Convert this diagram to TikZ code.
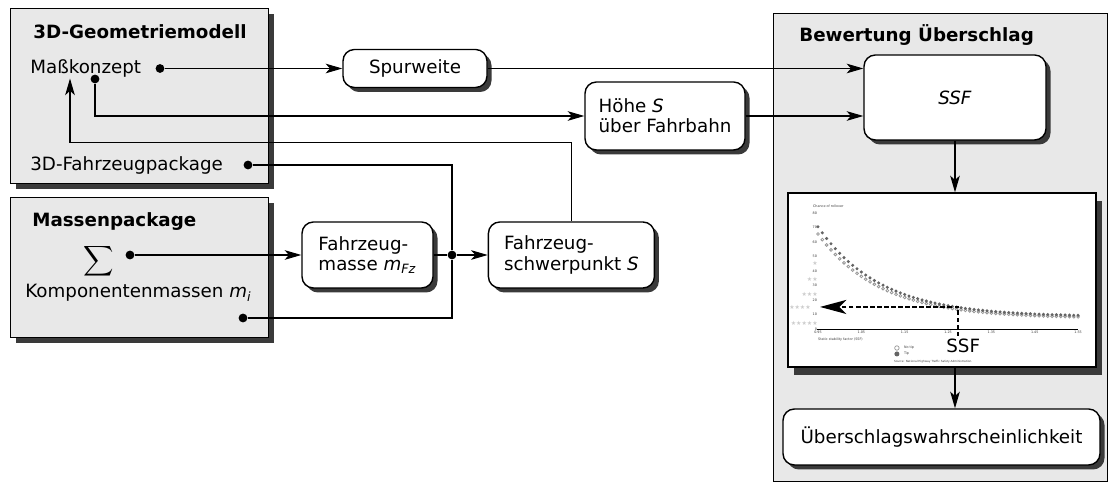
\documentclass[tikz,border=0pt]{standalone}
\usepackage{amsmath}
\usepackage{fontspec}
\setmainfont{DejaVu Sans}
\usepackage{xcolor}
\usepackage{tikz}
\usetikzlibrary{arrows.meta, positioning, shadows, calc}
\definecolor{groupgray}{RGB}{232, 232, 232}
\definecolor{shadowgray}{RGB}{58, 58, 58}
\definecolor{tipgray}{RGB}{100, 100, 100}
\definecolor{notipgray}{RGB}{150, 150, 150}
\definecolor{stargray}{RGB}{205, 205, 205}
\definecolor{charttext}{RGB}{60, 60, 60}
\newcommand{\diagfont}{\fontsize{10.4}{11.5}\selectfont}

\begin{document}
\begin{tikzpicture}[
			font=\diagfont,
			frame/.style={rectangle, draw, line width=0.8pt, fill=groupgray, anchor=north west},
			group/.style={frame, drop shadow={shadow xshift=0.1cm, shadow yshift=-0.1cm, fill=shadowgray, opacity=1}},
			block/.style={rectangle, draw, line width=0.8pt, fill=white, rounded corners=6.5pt, align=left,
				drop shadow={shadow xshift=0.09cm, shadow yshift=-0.09cm, fill=shadowgray, opacity=1}},
			chartbox/.style={rectangle, draw, line width=0.8pt, fill=white,
				drop shadow={shadow xshift=0.12cm, shadow yshift=-0.16cm, fill=shadowgray, opacity=1}},
			grouptitle/.style={anchor=west, inner sep=0pt, font=\diagfont\bfseries},
			txt/.style={anchor=west, inner sep=0pt},
			dot/.style={circle, fill=black, inner sep=0pt, minimum size=5pt},
			conn/.style={line width=0.6pt},
			arrow/.style={conn, -{Stealth[length=9.5pt, width=5.5pt, inset=2.5pt]}},
			dasharrow/.style={line width=1.1pt, dash pattern=on 2.5pt off 1.5pt, -{Stealth[length=15pt, width=8pt, inset=4pt]}},
			charttxt/.style={font=\fontsize{1.9}{2.3}\selectfont, text=charttext, inner sep=0.4pt},
			stars/.style={font=\fontsize{3.4}{4}\selectfont, text=stargray, inner sep=0pt, anchor=east}
		]
		\path[use as bounding box, fill=white] (0,0) rectangle (22.16,-9.68);
		
		% 3D-Geometriemodell
		\node[group, minimum width=5.16cm, minimum height=3.5cm] (geo) at (0.2,-0.16) {};
		\node[grouptitle] (geo-label) at (0.66,-0.64) {3D-Geometriemodell};
		\node[txt] (mk) at (0.6,-1.36) {Maßkonzept};
		\node[dot] (mk-out) at (3.2,-1.37) {};
		\node[dot] (mk-out2) at (1.9,-1.58) {};
		\coordinate (mk-in) at (1.4,-1.57);
		\node[txt] (pkg) at (0.6,-3.3) {3D-Fahrzeugpackage};
		\node[dot] (pkg-out) at (4.96,-3.3) {};
		
		% Massenpackage
		\node[group, minimum width=5.16cm, minimum height=2.8cm] (mass) at (0.2,-3.94) {};
		\node[grouptitle] (mass-label) at (0.64,-4.44) {Massenpackage};
		\node[font=\fontsize{12.8}{15}\selectfont, inner sep=0pt] (sum) at (1.98,-5.33) {$\displaystyle\smash{\sum}$};
		\node[dot] (sum-out) at (2.6,-5.1) {};
		\node[txt] (comp) at (0.5,-5.86) {Komponentenmassen \textit{m}\textsubscript{\textit{i}}};
		\node[dot] (comp-out) at (4.86,-6.36) {};
		
		% Zwischengroessen
		\node[block, minimum width=2.62cm, minimum height=1.32cm] (fzmasse) at (7.35,-5.1) {Fahrzeug-\\masse \textit{m}\textsubscript{\textit{Fz}}};
		\node[dot] (junc) at (9.04,-5.1) {};
		\node[block, minimum width=3.32cm, minimum height=1.32cm, right=1.08cm of fzmasse] (fzsp) {Fahrzeug-\\schwerpunkt \textit{S}};
		\node[block, minimum width=2.88cm, minimum height=0.76cm] (spur) at (8.3,-1.37) {Spurweite};
		\node[block, minimum width=3.2cm, minimum height=1.36cm] (hoehe) at (13.3,-2.32) {Höhe \textit{S}\\über Fahrbahn};
		
		% Bewertung Ueberschlag
		\node[frame, minimum width=6.68cm, minimum height=9.36cm] (bew) at (15.46,-0.26) {};
		\node[grouptitle] (bew-label) at (15.98,-0.7) {Bewertung Überschlag};
		\node[block, minimum width=3.64cm, minimum height=1.7cm, align=center] (ssf) at (19.1,-1.95) {\textit{SSF}};
		\node[chartbox, minimum width=6.16cm, minimum height=3.48cm] (chart) at (18.84,-5.6) {};
		\node[block, minimum width=6.34cm, minimum height=1.12cm] (prob) at (18.83,-8.74) {Überschlagswahrscheinlichkeit};
		
		% Rollover chart
		\begin{scope}[shift={(16.36,-6.58)}, x=8.67cm, y=0.029cm]
			\foreach \i in {0,...,60} {
				\pgfmathsetmacro\s{\i/100}
				\pgfmathsetmacro\vn{7.5+58*exp(-7*\s)}
				\draw[notipgray, line width=0.45pt] (\s,\vn) circle[radius=0.028cm];
			}
			\foreach \i in {0,...,60} {
				\pgfmathsetmacro\s{\i/100}
				\pgfmathsetmacro\vt{8.5+62*exp(-7*\s)}
				\fill[tipgray] (\s,\vt) circle[radius=0.034cm];
			}
			\draw[line width=0.45pt] (-0.002,0) -- (0.6,0);
			\foreach \t/\l in {0/0.95, 0.1/1.05, 0.2/1.15, 0.3/1.25, 0.4/1.35, 0.5/1.45, 0.6/1.55}
				\node[charttxt, below] at (\t,-0.5) {\l};
			\foreach \v in {0,10,...,80}
				\node[charttxt, anchor=east] at (0,\v) {\v};
			\foreach \st/\x/\v in {★/0/45, ★★/0/34.5, ★★★/0/24, ★★★★/-0.016/15, ★★★★★/0/4}
				\node[stars] at (\x,\v) {\st};
			\node[charttxt, anchor=west] at (-0.0138,84.8) {Chance of rollover};
			\node[charttxt, anchor=west] at (-0.002,-7.6) {Static stability factor (SSF)};
			\draw[notipgray, line width=0.4pt] (0.182,-13.1) circle[radius=0.045cm];
			\node[charttxt, anchor=west] at (0.196,-13.1) {No tip};
			\fill[tipgray] (0.182,-17.2) circle[radius=0.05cm];
			\node[charttxt, anchor=west] at (0.196,-17.2) {Tip};
			\node[charttxt, anchor=west, font=\fontsize{1.6}{2}\selectfont] at (0.173,-22.8) {Source: National Highway Traffic Safety Administration.};
			% reading the SSF value off the curve
			\coordinate (ssf-foot) at (0.323,-4.8);
			\coordinate (ssf-val) at (0.0046,15.2);
			\draw[dasharrow] (ssf-foot) |- (ssf-val);
			\node (ssf-label) at (0.335,-11.7) {SSF};
		\end{scope}
		
		% Verbindungen
		\draw[arrow] (mk-out) -- (mk-out -| spur.west);
		\draw[arrow] (mk-out2) |- (hoehe.west);
		\draw[arrow] (spur.east) -- (spur.east -| ssf.west);
		\draw[arrow] (hoehe.east) -- (hoehe.east -| ssf.west);
		\draw[arrow] (sum-out) -- (fzmasse.west);
		\draw[conn] (pkg-out) -| (junc);
		\draw[conn] (comp-out) -| (junc);
		\draw[conn] (fzmasse.east) -- (junc);
		\draw[arrow] (junc) -- (fzsp.west);
		\draw[arrow] (fzsp.north) -- ++(0,1.58) -| (mk-in);
		\draw[arrow] (ssf.south) -- (ssf.south |- chart.north);
		\draw[arrow] (chart.south -| ssf) -- (prob.north -| ssf);
		\end{tikzpicture}
\end{document}
